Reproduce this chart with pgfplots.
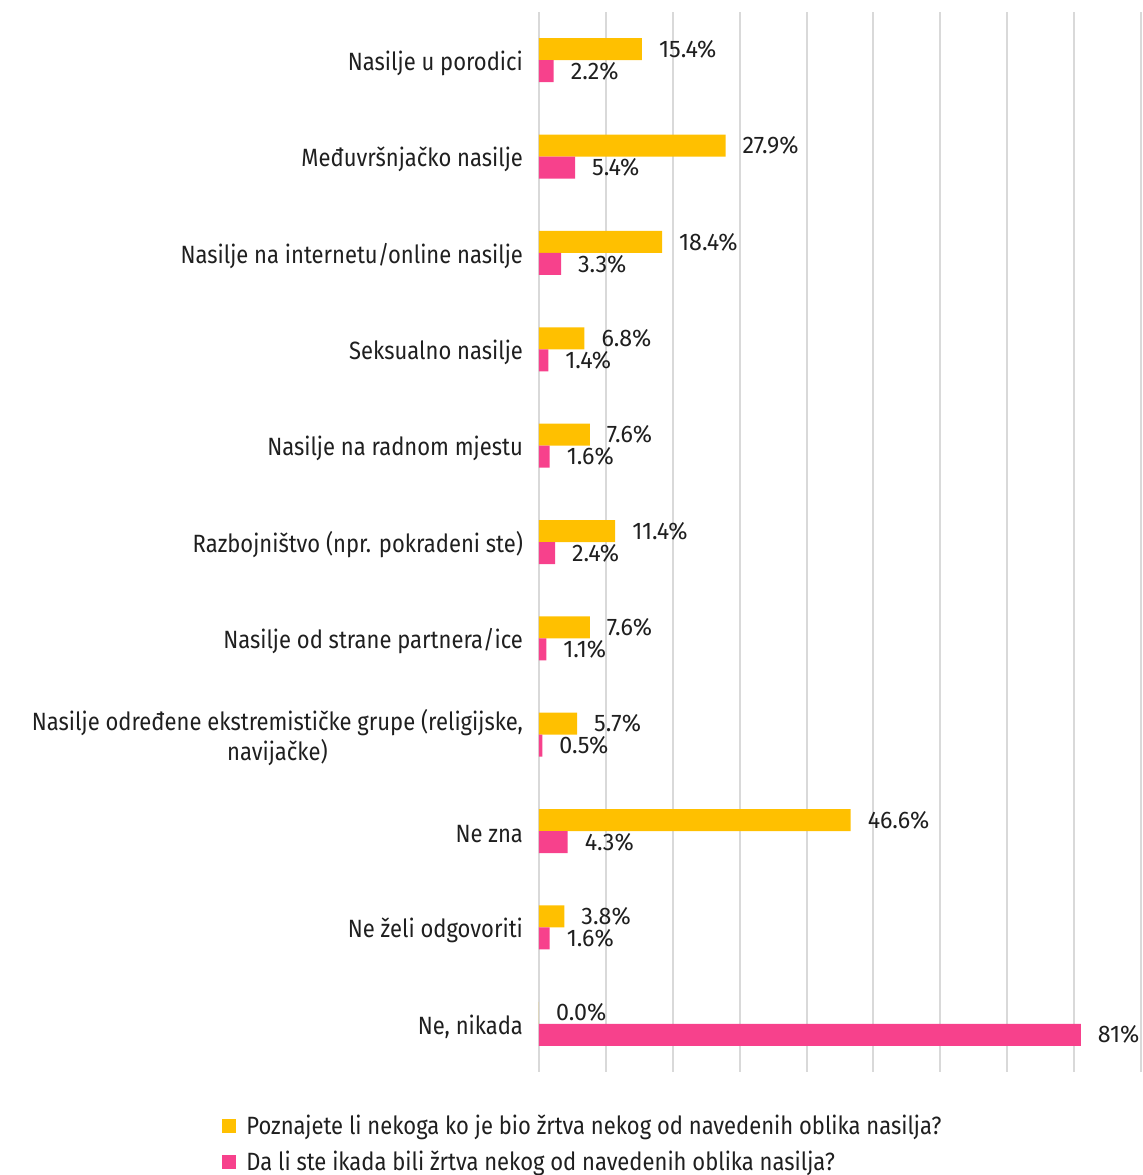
\documentclass[border=0pt]{standalone}
\usepackage{fontspec}
\setmainfont{Fira Sans}[FakeStretch=0.88]
\newfontfamily\valfont{Fira Sans}[FakeStretch=0.97]
\usepackage{pgfplots}
\pgfplotsset{compat=1.18}
\definecolor{cyellow}{HTML}{FFC000}
\definecolor{cpink}{HTML}{F7418C}
\definecolor{cgrid}{HTML}{D9D9D9}
\definecolor{ctext}{HTML}{1F1F1F}
\begin{document}
\begin{tikzpicture}
\useasboundingbox (-269.5pt,-51.5pt) rectangle (302pt,536pt);
\begin{axis}[
 at={(0,0)}, anchor=south west,
 scale only axis, width=301pt, height=530pt,
 xbar, bar width=11pt,
 xmin=0, xmax=90,
 ymin=-0.5, ymax=10.5, y dir=reverse,
 xtick={0,10,...,90}, xticklabels={},
 xmajorgrids, grid style={cgrid, line width=1pt},
 ytick={0,...,10},
 yticklabels={Nasilje u porodici, Međuvršnjačko nasilje, Nasilje na internetu/online nasilje, Seksualno nasilje, Nasilje na radnom mjestu, Razbojništvo (npr. pokradeni ste), Nasilje od strane partnera/ice, {Nasilje određene ekstremističke grupe (religijske,\\ navijačke)}, Ne zna, Ne želi odgovoriti, {Ne, nikada}},
 yticklabel style={align=center, font=\fontsize{12.5}{15}\selectfont, text=ctext, xshift=-4.5pt, yshift=-1.5pt},
 major tick length=0pt,
 axis line style={draw=none},
 point meta=explicit symbolic,
 nodes near coords={\pgfplotspointmeta\%},
 nodes near coords style={anchor=west, font=\valfont\fontsize{12}{14}\selectfont, text=ctext, xshift=5pt},
 legend style={at={(-0.5266,0)}, anchor=north west, yshift=-19pt, draw=none, fill=none, inner sep=0pt, font=\fontsize{12.5}{14}\selectfont, text=ctext, row sep=3pt},
 legend cell align=left,
 legend image code/.code={\fill[#1] (0pt,-3.5pt) rectangle (7pt,3.5pt);},
 /tikz/every odd column/.append style={column sep=3pt},
]
\addplot[fill=cyellow, draw=none, bar shift=5.5pt] table[x=x, y=y, meta=lab] {
y x lab
0 15.4 15.4
1 27.9 27.9
2 18.4 18.4
3 6.8 6.8
4 7.6 7.6
5 11.4 11.4
6 7.6 7.6
7 5.7 5.7
8 46.6 46.6
9 3.8 3.8
10 0.0 0.0
};
\addplot[fill=cpink, draw=none, bar shift=-5.5pt] table[x=x, y=y, meta=lab] {
y x lab
0 2.2 2.2
1 5.4 5.4
2 3.3 3.3
3 1.4 1.4
4 1.6 1.6
5 2.4 2.4
6 1.1 1.1
7 0.5 0.5
8 4.3 4.3
9 1.6 1.6
10 81 81
};
\legend{Poznajete li nekoga ko je bio žrtva nekog od navedenih oblika nasilja?, Da li ste ikada bili žrtva nekog od navedenih oblika nasilja?}
\end{axis}
\end{tikzpicture}
\end{document}
